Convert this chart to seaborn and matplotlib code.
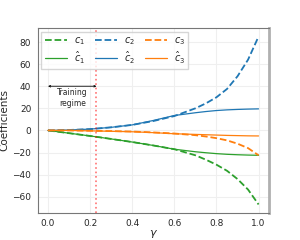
import numpy as np
import pandas as pd
import seaborn as sns
import matplotlib
matplotlib.use('Agg')
import matplotlib.pyplot as plt

# values
gamma = [0.0, 0.1, 0.2, 0.3, 0.4, 0.5, 0.6, 0.7, 0.75, 0.8, 0.85, 0.9, 0.95, 1.0]
c1 = [0, -2.5, -5, -7.7, -10.5, -13.6, -17, -22.5, -26.5, -31, -36.5, -44, -53.5, -67]
c1_hat = [0, -2.5, -5, -7.7, -10.5, -13.6, -17, -19.3, -20.2, -21, -21.6, -22, -22.3, -22.5]
c2 = [0, 0.4, 1.2, 2.8, 5, 8.5, 13, 20, 24.5, 30, 37.5, 49, 64, 85]
c2_hat = [0, 0.4, 1.2, 2.8, 5, 9, 13.5, 16, 17.1, 18, 18.6, 19, 19.3, 19.5]
c3 = [0, 0, -0.3, -0.6, -1, -1.8, -2.8, -4.3, -5.5, -7, -9, -12, -16, -22.5]
c3_hat = [0, 0, -0.4, -0.8, -1.2, -2, -3, -3.6, -3.9, -4.2, -4.5, -4.7, -4.9, -5]

train_end = 0.23

sns.set_style('whitegrid', {'grid.color': '#efefef', 'axes.edgecolor': '#777777'})

fig, ax = plt.subplots(figsize = (3, 2.4), dpi = 100)

series = [
    (c1, '$c_1$', 'tab:green', '--'),
    (c1_hat, '$\\hat{c}_1$', 'tab:green', '-'),
    (c2, '$c_2$', 'tab:blue', '--'),
    (c2_hat, '$\\hat{c}_2$', 'tab:blue', '-'),
    (c3, '$c_3$', 'tab:orange', '--'),
    (c3_hat, '$\\hat{c}_3$', 'tab:orange', '-'),
]
for vals, lab, col, ls in series:
    df = pd.DataFrame({'gamma': gamma, 'val': vals})
    lw = 1.3 if ls == '--' else 0.9
    sns.lineplot(data = df, x = 'gamma', y = 'val', ax = ax, color = col,
                 linestyle = ls, linewidth = lw, label = lab)

ax.axvline(train_end, color = 'red', linestyle = ':', linewidth = 1.2, alpha = 0.55)
ax.annotate('', xy = (0.0, 40), xytext = (train_end, 40),
            arrowprops = dict(arrowstyle = '<->', color = 'black', lw = 0.6,
                              shrinkA = 0, shrinkB = 0, mutation_scale = 3))
ax.text(train_end / 2, 29.5, 'Training\nregime', ha = 'center', va = 'center', fontsize = 5.5)

ax.set_xlabel('$\\gamma$', fontsize = 8, labelpad = 0)
ax.set_ylabel('Coefficients', fontsize = 7.5, labelpad = 2)
ax.set_xticks([0.0, 0.2, 0.4, 0.6, 0.8, 1.0])
ax.set_yticks([-60, -40, -20, 0, 20, 40, 60, 80])
ax.tick_params(labelsize = 6.5, pad = 1)
ax.spines['right'].set_linewidth(2.0)
ax.spines['right'].set_color('#b0b0b0')

ax.legend(ncol = 3, loc = 'upper left', fontsize = 7, frameon = True,
          handlelength = 2.3, columnspacing = 1.0, borderpad = 0.35,
          labelspacing = 0.25, fancybox = False, borderaxespad = 0.4,
          handletextpad = 0.7)

fig.subplots_adjust(left = 0.125, right = 0.897, top = 0.883, bottom = 0.113)
fig.savefig('out.png', dpi = 100)
